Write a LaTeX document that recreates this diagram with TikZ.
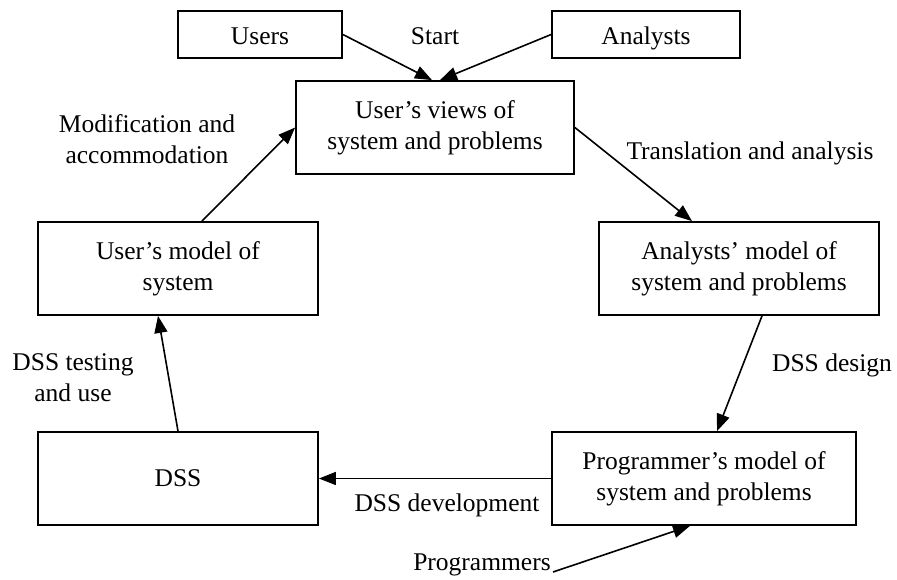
\documentclass[tikz,border=0pt]{standalone}
\usepackage{fontspec}
\setmainfont{Liberation Serif}
\usetikzlibrary{arrows.meta,calc}
\begin{document}
\begin{tikzpicture}[x=1pt,y=-1pt,
  every node/.style={font=\fontsize{25.5pt}{31pt}\selectfont, align=center, inner sep=0pt},
  box/.style={draw, line width=1.8pt, minimum height=93pt},
  smallbox/.style={draw, line width=1.8pt, minimum height=47pt, text height=20pt, text depth=0pt},
  conn/.style={line width=1.6pt, -{Triangle[length=17pt,width=13pt]}},
  lbl/.style={}]
\useasboundingbox (0,0) rectangle (897,579);
\node[smallbox, minimum width=164pt] (users) at (260,34.5) {Users};
\node[smallbox, minimum width=188pt] (analysts) at (646,34.5) {Analysts};
\node[box, minimum width=278pt] (views) at (435,127.5) {User’s views of\\system and problems};
\node[box, minimum width=280pt] (amodel) at (739,268.5) {Analysts’ model of\\system and problems};
\node[box, minimum width=280pt] (umodel) at (178,268.5) {User’s model of\\system};
\node[box, minimum width=280pt] (dss) at (178,478.5) {DSS};
\node[box, minimum width=304pt] (pmodel) at (704,478.5) {Programmer’s model of\\system and problems};

\node[lbl] (start) at (435,36) {Start};
\node[lbl] (modl) at (147,139) {Modification and\\accommodation};
\node[lbl] (transl) at (750,153) {Translation and analysis};
\node[lbl] (designl) at (832,365) {DSS design};
\node[lbl] (testl) at (73,378) {DSS testing\\and use};
\node[lbl] (devl) at (447,505) {DSS development};
\node[lbl] (progl) at (482,565) {Programmers};
\coordinate (progend) at (553,572);

\draw[conn] (users.east) -- ($(views.north)+(-3,0)$);
\draw[conn] (analysts.west) -- ($(views.north)+(5,0)$);
\draw[conn] ($(umodel.north)+(24,0)$) -- (views.west);
\draw[conn] (views.east) -- ($(amodel.north)+(-47,0)$);
\draw[conn] ($(amodel.south)+(23,0)$) -- ($(pmodel.north)+(13,0)$);
\draw[conn] (pmodel.west) -- (dss.east);
\draw[conn] (dss.north) -- ($(umodel.south)+(-20,0)$);
\draw[conn] (progend) -- ($(pmodel.south)+(-14,0)$);
\end{tikzpicture}
\end{document}
